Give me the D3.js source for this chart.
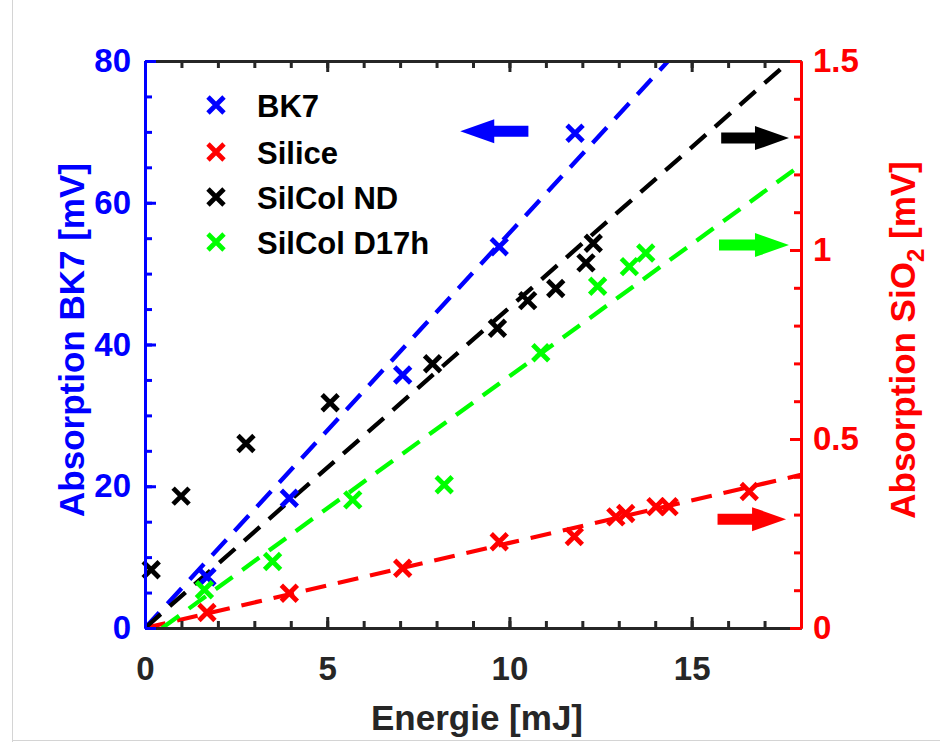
<!DOCTYPE html>
<html><head><meta charset="utf-8">
<script src="https://cdn.jsdelivr.net/npm/d3@7"></script>
<style>
html,body{margin:0;padding:0;background:#fff;}
svg text{font-family:"Liberation Sans",Arial,sans-serif;font-weight:bold;}
</style></head>
<body><svg id="c" width="940" height="742"></svg>
<script>
// ---- data ----
const xTicks = [0, 5, 10, 15];
const yLeftTicks = [0, 20, 40, 60, 80];
const yRightTicks = [0, 0.5, 1, 1.5];
const yRightTickLabels = ["0", "0.5", "1", "1.5"];

// BK7 (left axis, mV)
const bk7X = [1.70, 3.96, 7.07, 9.72, 11.80];
const bk7Y = [7.2, 18.3, 35.7, 53.8, 69.8];
// Silice (right axis, mV)
const silX = [1.70, 3.96, 7.07, 9.72, 11.78, 12.92, 13.19, 14.02, 14.38, 16.58];
const silY = [0.041, 0.092, 0.158, 0.228, 0.242, 0.294, 0.303, 0.321, 0.321, 0.361];
// SilCol ND (right axis, mV)
const ndX = [0.17, 0.99, 2.77, 5.08, 7.89, 9.67, 10.50, 11.27, 12.10, 12.30];
const ndY = [0.154, 0.349, 0.488, 0.596, 0.699, 0.793, 0.866, 0.898, 0.966, 1.018];
// SilCol D17h (right axis, mV)
const d17X = [1.63, 3.50, 5.70, 8.21, 10.86, 12.42, 13.29, 13.74];
const d17Y = [0.101, 0.176, 0.339, 0.379, 0.728, 0.904, 0.956, 0.992];

// fitted lines [x0, y0, x1, y1]
const bk7Fit = [0, 0, 18, 100.3];
const silFit = [0, 0, 18, 0.405];
const ndFit = [0, 0, 18, 1.526];
const d17Fit = [0.47, 0, 18, 1.225];

const seriesNames = ["BK7", "Silice", "SilCol ND", "SilCol D17h"];
const seriesColors = ["#0000ff", "#ff0000", "#000000", "#00ff00"];

// annotation arrows: [tailX, tipX, y, axis]
const arrowBK7 = [10.52, 8.65, 70.1, "L"];
const arrowND = [15.81, 17.67, 1.296, "R"];
const arrowD17 = [15.75, 17.67, 1.013, "R"];
const arrowSil = [15.71, 17.59, 0.288, "R"];

// ---- layout ----
const svg = d3.select("#c");
const L = 145, R = 801, T = 61, B = 628;
const x = d3.scaleLinear().domain([0, 18]).range([L, R]);
const yL = d3.scaleLinear().domain([0, 80]).range([B, T]);
const yR = d3.scaleLinear().domain([0, 1.5]).range([B, T]);

// figure border
svg.append("line").attr("x1",12.5).attr("x2",12.5).attr("y1",0).attr("y2",742).attr("stroke","#d4d4d4");
svg.append("line").attr("x1",12).attr("x2",940).attr("y1",740.5).attr("y2",740.5).attr("stroke","#d4d4d4");

const defs = svg.append("defs");
defs.append("clipPath").attr("id","clip").append("rect")
  .attr("x",L).attr("y",T).attr("width",R-L).attr("height",B-T);

const plot = svg.append("g").attr("clip-path","url(#clip)");

function fitLine(f, ys, color){
  plot.append("line")
    .attr("x1", x(f[0])).attr("y1", ys(f[1]))
    .attr("x2", x(f[2])).attr("y2", ys(f[3]))
    .attr("stroke", color).attr("stroke-width", 4.3)
    .attr("stroke-dasharray", "21,12");
}
fitLine(bk7Fit, yL, seriesColors[0]);
fitLine(silFit, yR, seriesColors[1]);
fitLine(ndFit, yR, seriesColors[2]);
fitLine(d17Fit, yR, seriesColors[3]);

const S = 8;
function cross(g, cx, cy, color){
  g.append("path")
    .attr("d", `M${cx-S},${cy-S}L${cx+S},${cy+S}M${cx-S},${cy+S}L${cx+S},${cy-S}`)
    .attr("stroke", color).attr("stroke-width", 4.8).attr("fill","none");
}
const pts = svg.append("g");
bk7X.forEach((v,i)=>cross(pts, x(v), yL(bk7Y[i]), seriesColors[0]));
silX.forEach((v,i)=>cross(pts, x(v), yR(silY[i]), seriesColors[1]));
ndX.forEach((v,i)=>cross(pts, x(v), yR(ndY[i]), seriesColors[2]));
d17X.forEach((v,i)=>cross(pts, x(v), yR(d17Y[i]), seriesColors[3]));

// arrows
function arrow(a, color){
  const ys = a[3] === "L" ? yL : yR;
  const x0 = x(a[0]), x1 = x(a[1]), yy = ys(a[2]);
  const dir = Math.sign(x1 - x0);
  const hl = 34, hw = 12, sw = 5.5;
  const xb = x1 - dir*hl;
  svg.append("path")
    .attr("d", `M${x0},${yy-sw}L${xb},${yy-sw}L${xb},${yy-hw}L${x1},${yy}L${xb},${yy+hw}L${xb},${yy+sw}L${x0},${yy+sw}Z`)
    .attr("fill", color);
}
arrow(arrowBK7, seriesColors[0]);
arrow(arrowND, seriesColors[2]);
arrow(arrowD17, seriesColors[3]);
arrow(arrowSil, seriesColors[1]);

// axes
const axCol = "#262626";
function styleAxis(g, color, fs){
  g.select(".domain").attr("stroke", color).attr("stroke-width", 3);
  g.selectAll(".tick line").attr("stroke", color).attr("stroke-width", 3);
  g.selectAll("text").attr("fill", color).style("font-size", fs+"px")
   .style("font-family", '"Liberation Sans",Arial,sans-serif').style("font-weight","bold");
}
// bottom
const gbMin = svg.append("g").attr("transform",`translate(0,${B})`)
  .call(d3.axisBottom(x).tickValues(d3.range(0,18,1)).tickSize(-7).tickSizeOuter(0).tickFormat(""));
styleAxis(gbMin, axCol, 33);
const gb = svg.append("g").attr("transform",`translate(0,${B})`)
  .call(d3.axisBottom(x).tickValues(xTicks).tickSize(-11).tickSizeOuter(0).tickPadding(29).tickFormat(d3.format("d")));
styleAxis(gb, axCol, 33);
// top
const gtMin = svg.append("g").attr("transform",`translate(0,${T})`)
  .call(d3.axisTop(x).tickValues(d3.range(0,18,1)).tickSize(-7).tickSizeOuter(0).tickFormat(""));
styleAxis(gtMin, axCol, 33);
const gt = svg.append("g").attr("transform",`translate(0,${T})`)
  .call(d3.axisTop(x).tickValues(xTicks).tickSize(-11).tickSizeOuter(0).tickFormat(""));
styleAxis(gt, axCol, 33);
// left
const glMin = svg.append("g").attr("transform",`translate(${L},0)`)
  .call(d3.axisLeft(yL).tickValues(d3.range(0,81,5)).tickSize(-7).tickSizeOuter(0).tickFormat(""));
styleAxis(glMin, "#0000ff", 33);
const gl = svg.append("g").attr("transform",`translate(${L},0)`)
  .call(d3.axisLeft(yL).tickValues(yLeftTicks).tickSize(-11).tickSizeOuter(0).tickPadding(14).tickFormat(d3.format("d")));
styleAxis(gl, "#0000ff", 33);
// right
const grMin = svg.append("g").attr("transform",`translate(${R},0)`)
  .call(d3.axisRight(yR).tickValues(d3.range(0,1.51,0.1)).tickSize(-7).tickSizeOuter(0).tickFormat(""));
styleAxis(grMin, "#ff0000", 33);
const gr = svg.append("g").attr("transform",`translate(${R},0)`)
  .call(d3.axisRight(yR).tickValues(yRightTicks).tickSize(-11).tickSizeOuter(0).tickPadding(12)
    .tickFormat((d,i)=>yRightTickLabels[i]));
styleAxis(gr, "#ff0000", 33);

// axis titles
svg.append("text").attr("x", 477).attr("y", 730).attr("text-anchor","middle")
  .attr("fill", axCol).style("font-size","35px").text("Energie [mJ]");
svg.append("text").attr("transform","translate(84,340) rotate(-90)").attr("text-anchor","middle")
  .attr("fill","#0000ff").style("font-size","35px").text("Absorption BK7 [mV]");
const rt = svg.append("text").attr("transform","translate(915,340) rotate(-90)").attr("text-anchor","middle")
  .attr("fill","#ff0000").style("font-size","35px");
rt.append("tspan").text("Absorption SiO");
rt.append("tspan").attr("dy", 9).style("font-size","24px").text("2");
rt.append("tspan").attr("dy", -9).text(" [mV]");

// legend
const legY = [105, 152, 197, 242];
const leg = svg.append("g");
seriesNames.forEach((n,i)=>{
  cross(leg, 216, legY[i], seriesColors[i]);
  leg.append("text").attr("x", 257).attr("y", legY[i]+12).attr("fill","#000")
    .style("font-size","31px").text(n);
});
</script></body></html>
